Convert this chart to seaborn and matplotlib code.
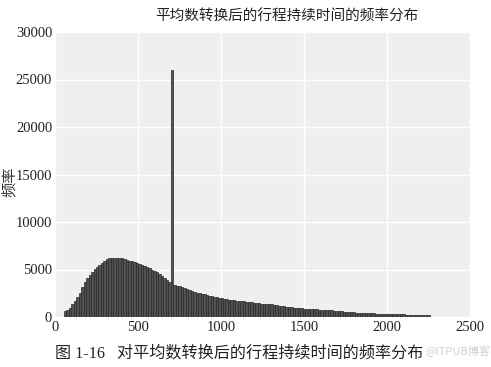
import numpy as np
import pandas as pd
import matplotlib
matplotlib.use("Agg")
import matplotlib.pyplot as plt
import seaborn as sns

# ---- data ----
bin_start = 52
bin_width = 15
counts = [
    600, 720, 1000, 1330, 1700, 2120, 2530, 3200, 3680, 4100,
    4420, 4740, 5040, 5270, 5490, 5720, 5940, 6070, 6180, 6240,
    6260, 6250, 6220, 6190, 6110, 6020, 5930, 5850, 5770, 5690,
    5590, 5500, 5380, 5250, 5120, 4990, 4860, 4720, 4500, 4300,
    4090, 3870, 3660, 26000, 3320, 3300, 3260, 3160, 3070, 2980,
    2860, 2720, 2630, 2560, 2490, 2420, 2370, 2300, 2240, 2170,
    2120, 2060, 2020, 1980, 1930, 1880, 1840, 1800, 1770, 1730,
    1700, 1660, 1640, 1610, 1580, 1540, 1520, 1490, 1450, 1420,
    1400, 1390, 1360, 1320, 1300, 1230, 1190, 1160, 1130, 1090,
    1070, 1020, 990, 960, 940, 920, 890, 870, 860, 830,
    800, 790, 770, 760, 730, 720, 700, 690, 650, 630,
    610, 580, 560, 540, 520, 500, 480, 470, 450, 440,
    420, 410, 390, 380, 370, 360, 350, 340, 330, 320,
    310, 300, 290, 290, 280, 280, 270, 260, 260, 250,
    250, 240, 240, 230, 230, 220, 220,
]
x_ticks = [0, 500, 1000, 1500, 2000, 2500]
y_ticks = [0, 5000, 10000, 15000, 20000, 25000, 30000]
title = "平均数转换后的行程持续时间的频率分布"
ylabel = "频率"
caption = "图 1-16   对平均数转换后的行程持续时间的频率分布"
watermark = "@ITPUB博客"

n_bins = len(counts)
bin_end = bin_start + bin_width * n_bins
centers = bin_start + bin_width * (np.arange(n_bins) + 0.5)
df = pd.DataFrame({"duration": centers, "count": counts})

sns.set_theme(style="darkgrid", rc={
    "axes.facecolor": "#EFEFEF",
    "grid.color": "white",
    "grid.linewidth": 1.0,
})
serif = ["Liberation Serif", "Noto Sans CJK SC"]
cjk = ["Noto Sans CJK SC", "DejaVu Sans"]
plt.rcParams["font.family"] = serif

fig = plt.figure(figsize=(4.91, 3.67), dpi=100)
ax = fig.add_axes([55/491, 50/367, 415/491, 285/367])

sns.histplot(data=df, x="duration", weights="count", binwidth=bin_width,
             binrange=(bin_start, bin_end), ax=ax,
             color="#505050", edgecolor="#2a2a2a", linewidth=0.5, alpha=1.0)

ax.set_xlim(0, 2500)
ax.set_ylim(0, 30000)
ax.set_xticks(x_ticks)
ax.set_yticks(y_ticks)
ax.set_xticklabels([str(v) for v in x_ticks], fontsize=10.5, color="#222222")
ax.set_yticklabels([str(v) for v in y_ticks], fontsize=10.5, color="#222222")
ax.tick_params(axis="both", length=0)
ax.tick_params(axis="x", pad=3)
ax.tick_params(axis="y", pad=2)
for s in ax.spines.values():
    s.set_visible(False)
ax.set_xlabel("")
ax.set_ylabel("")

fig.text(10/491, 1 - 182/367, ylabel, rotation=90, ha="center", va="center",
         fontsize=11, family=cjk, color="#333333")
fig.text(287/491, 1 - 17/367, title, ha="center", va="center",
         fontsize=10.5, family=cjk, color="#222222")
fig.text(55/491, 1 - 353/367, caption, ha="left", va="center",
         fontsize=11.6, family=serif, color="#222222")
fig.text(490/491, 1 - 351/367, watermark, ha="right", va="center",
         fontsize=8, family=cjk, color="#c4c4c4", alpha=0.8)

fig.savefig("out.png", dpi=100)
